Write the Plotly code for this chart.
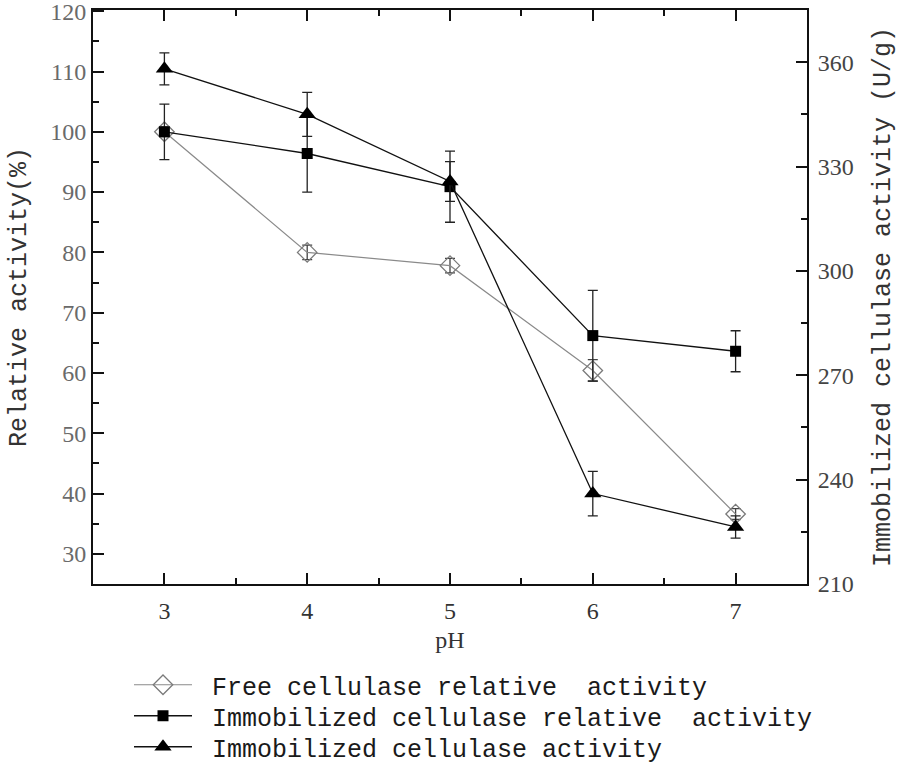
import plotly.graph_objects as go

# ---- data ----
ph = [3, 4, 5, 6, 7]
free_rel = [100.0, 80.0, 77.8, 60.4, 36.6]
free_rel_err = [0.8, 1.2, 1.2, 1.8, 0.9]
imm_rel = [100.0, 96.4, 90.9, 66.2, 63.6]
imm_rel_err = [4.6, 6.4, 5.9, 7.5, 3.4]
imm_act = [358.1, 345.0, 325.7, 236.0, 226.4]
imm_act_err = [4.6, 6.3, 5.7, 6.4, 3.2]
left_ticks = [30, 40, 50, 60, 70, 80, 90, 100, 110, 120]
right_ticks = [210, 240, 270, 300, 330, 360]

names = ["\u00a0Free cellulase relative\u00a0 activity",
         "\u00a0Immobilized cellulase relative\u00a0 activity",
         "\u00a0Immobilized cellulase activity"]

MONO = "Liberation Mono, Courier New, monospace"
SERIF = "Liberation Serif, Times New Roman, serif"

W, H = 898, 765
ML, MR, MT, MB = 93, 91, 10, 181

fig = go.Figure()

fig.add_trace(go.Scatter(
    x=ph, y=free_rel, name=names[0], mode="lines+markers", legend="legend",
    line=dict(color="#8a8a8a", width=1.2),
    marker=dict(symbol="diamond-open", size=15, color="#7a7a7a",
                line=dict(width=1.3, color="#7a7a7a")),
    error_y=dict(type="data", array=free_rel_err, visible=True,
                 color="#444444", thickness=1.3, width=5),
))
fig.add_trace(go.Scatter(
    x=ph, y=imm_rel, name=names[1], mode="lines+markers", legend="legend2",
    line=dict(color="#111111", width=1.3),
    marker=dict(symbol="square", size=11, color="#000000"),
    error_y=dict(type="data", array=imm_rel_err, visible=True,
                 color="#222222", thickness=1.3, width=5),
))
fig.add_trace(go.Scatter(
    x=ph, y=imm_act, name=names[2], mode="lines+markers", yaxis="y2", legend="legend3",
    line=dict(color="#111111", width=1.3),
    marker=dict(symbol="triangle-up", size=15, color="#000000"),
    error_y=dict(type="data", array=imm_act_err, visible=True,
                 color="#222222", thickness=1.3, width=5),
))

def leg(yc):
    return dict(
        xref="container", yref="container",
        x=129 / W, y=1 - yc / H, xanchor="left", yanchor="middle",
        font=dict(family=MONO, size=25, color="#1a1a1a"),
        bgcolor="rgba(0,0,0,0)", itemwidth=58, borderwidth=0,
    )

fig.update_layout(
    width=W, height=H,
    paper_bgcolor="white", plot_bgcolor="white",
    margin=dict(l=ML, r=MR, t=MT, b=MB, autoexpand=False),
    showlegend=True,
    legend=leg(685), legend2=leg(716), legend3=leg(747),
    xaxis=dict(
        range=[2.5, 7.5], tickvals=ph, ticktext=[str(v) for v in ph],
        showline=True, linecolor="#111111", linewidth=2, mirror="ticks",
        ticks="inside", ticklen=11, tickwidth=2, tickcolor="#111111",
        minor=dict(ticks="inside", dtick=0.5, ticklen=6, tickwidth=2, tickcolor="#111111"),
        showgrid=False, zeroline=False, ticklabelstandoff=4,
        tickfont=dict(family=SERIF, size=24, color="#333333"),
        title=dict(text="pH", font=dict(family=SERIF, size=24, color="#333333"), standoff=8),
    ),
    yaxis=dict(
        range=[25, 120.2], tickvals=left_ticks, ticklabeloverflow="allow",
        showline=True, linecolor="#111111", linewidth=2,
        ticks="inside", ticklen=11, tickwidth=2, tickcolor="#111111",
        minor=dict(ticks="inside", dtick=5, tick0=0, ticklen=6, tickwidth=2, tickcolor="#111111"),
        showgrid=False, zeroline=False,
        tickfont=dict(family=SERIF, size=24, color="#6a6a6a"),
    ),
    yaxis2=dict(
        range=[210, 375], tickvals=right_ticks, ticklabeloverflow="allow",
        overlaying="y", side="right", anchor="x", ticklabelstandoff=4,
        showline=True, linecolor="#111111", linewidth=2,
        ticks="inside", ticklen=11, tickwidth=2, tickcolor="#111111",
        minor=dict(ticks="inside", dtick=15, tick0=210, ticklen=6, tickwidth=2, tickcolor="#111111"),
        showgrid=False, zeroline=False,
        tickfont=dict(family=SERIF, size=24, color="#444444"),
        title=dict(text="Immobilized cellulase activity (U/g)", font=dict(family=MONO, size=25, color="#333333"), standoff=21),
    ),
    annotations=[dict(
        text="Relative activity(%)", xref="paper", yref="paper",
        x=-(ML - 19) / (W - ML - MR), y=1 - (297 - MT) / (H - MT - MB),
        xanchor="center", yanchor="middle", textangle=-90, showarrow=False,
        font=dict(family=MONO, size=25, color="#333333"),
    )],
)

# remove the browser's default 8px body margin so the figure fills the window
fig.write_html("out.html", config={"displayModeBar": False},
               post_script="document.body.style.margin='0';")
